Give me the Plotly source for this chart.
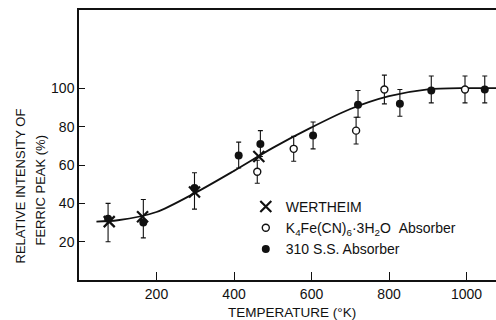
import plotly.graph_objects as go

# ---- data ----
# 310 S.S. absorber (filled circles)
ss_temp = [75, 166, 298, 412, 468, 604, 720, 828, 909, 1047]
ss_int = [32, 30, 48, 65, 71, 75.5, 91.5, 92, 99, 99.5]
ss_err_plus = [8, 12, 8, 7, 7, 7, 7.5, 7.5, 7.5, 7]
ss_err_minus = [12, 8, 11, 6.5, 6.5, 7, 6.5, 6.5, 6.5, 7]

# K4Fe(CN)6.3H2O absorber (open circles)
kf_temp = [460, 554, 715, 788, 996]
kf_int = [56.5, 68.5, 78, 99.5, 99.5]
kf_err = [6, 6.5, 7, 7.5, 7]

# Wertheim (crosses)
w_temp = [78, 164, 298, 464]
w_int = [30.5, 33, 46, 64.5]

# smooth fitted curve
curve_temp = [45, 100, 200, 300, 400, 500, 600, 700, 800, 900, 1000, 1080]
curve_int = [30.5, 31.2, 35.5, 45.5, 57, 69, 79.7, 89.3, 96, 99.6, 100.2, 100.2]

x_ticks = [200, 400, 600, 800, 1000]
y_ticks = [20, 40, 60, 80, 100]

FONT = "Liberation Sans, Arial, sans-serif"
INK = "#111111"

fig = go.Figure()

fig.add_trace(go.Scatter(x=curve_temp, y=curve_int, mode="lines",
                         line=dict(color=INK, width=1.8, shape="spline", smoothing=0.8),
                         showlegend=False, hoverinfo="skip"))

# error bars (no legend)
fig.add_trace(go.Scatter(x=ss_temp, y=ss_int, mode="markers", marker=dict(size=1, opacity=0),
                         error_y=dict(type="data", symmetric=False, array=ss_err_plus, arrayminus=ss_err_minus,
                                      color=INK, thickness=1.1, width=2.5),
                         showlegend=False, hoverinfo="skip"))
fig.add_trace(go.Scatter(x=kf_temp, y=kf_int, mode="markers", marker=dict(size=1, opacity=0),
                         error_y=dict(type="data", array=kf_err, color=INK, thickness=1.1, width=2.5),
                         showlegend=False, hoverinfo="skip"))

# markers with legend
fig.add_trace(go.Scatter(x=w_temp, y=w_int, mode="markers", name="WERTHEIM",
                         marker=dict(symbol="x-thin", size=11, line=dict(color=INK, width=2.2))))
fig.add_trace(go.Scatter(x=kf_temp, y=kf_int, mode="markers",
                         name="K<sub>4</sub>Fe(CN)<sub>6</sub>·3H<sub>2</sub>O&nbsp;&nbsp;Absorber",
                         marker=dict(symbol="circle", size=7, color="white", line=dict(color=INK, width=1.4))))
fig.add_trace(go.Scatter(x=ss_temp, y=ss_int, mode="markers", name="310 S.S. Absorber",
                         marker=dict(symbol="circle", size=8, color=INK, line=dict(color=INK, width=0))))

fig.update_layout(
    width=496, height=320,
    margin=dict(l=79, r=0, t=10, b=40),
    paper_bgcolor="white", plot_bgcolor="white",
    font=dict(family=FONT, size=14, color=INK),
    showlegend=True,
    legend=dict(x=0.4, y=0.33, xanchor="left", yanchor="top", bgcolor="rgba(0,0,0,0)",
                font=dict(size=14, color=INK), itemwidth=30, tracegroupgap=0),
    xaxis=dict(range=[0, 1076], tickvals=x_ticks, ticks="inside", ticklen=8, tickwidth=1.3, tickcolor=INK,
               showline=True, linecolor=INK, linewidth=1.5, mirror=True, showgrid=False, zeroline=False,
               tickfont=dict(size=14, color=INK)),
    yaxis=dict(range=[0, 141], tickvals=y_ticks, ticks="inside", ticklen=6, tickwidth=1.3, tickcolor=INK,
               showline=True, linecolor=INK, linewidth=1.5, showgrid=False, zeroline=False,
               tickfont=dict(size=14, color=INK)),
    annotations=[
        dict(text="TEMPERATURE (°K)", xref="paper", yref="paper", x=(292 - 79) / 417, y=-(313 - 280.5) / 270,
             xanchor="center", yanchor="middle", showarrow=False, font=dict(size=13.5, color=INK)),
        dict(text="RELATIVE INTENSITY OF", xref="paper", yref="paper", x=(20 - 79) / 417, y=(280.5 - 187) / 270,
             xanchor="center", yanchor="middle", textangle=-90, showarrow=False, font=dict(size=13, color=INK)),
        dict(text="FERRIC PEAK (%)", xref="paper", yref="paper", x=(40 - 79) / 417, y=(280.5 - 191) / 270,
             xanchor="center", yanchor="middle", textangle=-90, showarrow=False, font=dict(size=13, color=INK)),
    ],
)

fig.write_html("out.html")
